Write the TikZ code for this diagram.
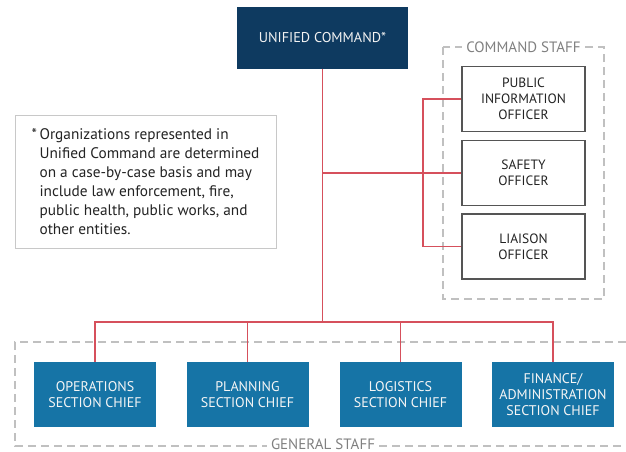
\documentclass[tikz,border=0pt]{standalone}
\usepackage{fontspec}
\setmainfont{PT Sans}
\definecolor{ucnavy}{RGB}{14,58,96}
\definecolor{gsblue}{RGB}{22,116,166}
\definecolor{linkred}{RGB}{214,80,92}
\definecolor{dashgray}{RGB}{192,192,192}
\definecolor{labelgray}{RGB}{128,128,128}
\definecolor{boxgray}{RGB}{85,85,85}
\definecolor{notegray}{RGB}{200,200,200}
\definecolor{notetext}{RGB}{35,35,35}

\tikzset{
  ucbox/.style={fill=ucnavy, text=white!90!gray, minimum width=171pt, minimum height=61pt,
    inner sep=0pt, font=\fontsize{14.2}{16}\selectfont},
  officerbox/.style={draw=boxgray, line width=1.2pt, fill=white, minimum width=123pt,
    minimum height=65pt, inner sep=0pt, align=center, text=notetext,
    font=\fontsize{13.5}{16}\selectfont},
  chiefbox/.style={fill=gsblue, text=white!92!gray, minimum width=122pt, minimum height=65pt,
    inner sep=0pt, align=center, font=\fontsize{14}{16}\selectfont},
  notebox/.style={draw=notegray, line width=1pt, minimum width=261pt, minimum height=133pt,
    inner sep=0pt, align=left, text=notetext, font=\fontsize{15.3}{19}\selectfont},
  staffframe/.style={draw=dashgray, line width=1.2pt, dash pattern=on 8pt off 5pt},
  stafflabel/.style={fill=white, text=labelgray, inner xsep=4pt, inner ysep=1pt,
    font=\fontsize{15}{16}\selectfont},
  link/.style={draw=linkred, line width=1.3pt},
}

\begin{document}
\begin{tikzpicture}[x=1pt, y=-1pt]
    \useasboundingbox (0,0) rectangle (626,452);

    % Command staff frame
    \draw[staffframe] (443,47) rectangle (604,299);
    \node[stafflabel] (cslabel) at (523.5,47) {COMMAND STAFF};

    % General staff frame, open on the right
    \draw[staffframe] (626,342) -| (15,446) -- (626,446);
    \node[stafflabel] (gslabel) at (323,444) {GENERAL STAFF};

    % Unified command
    \node[ucbox] (uc) at (322.5,38) {UNIFIED COMMAND*};

    % Note on the left
    \node[notebox] (note) at (145.5,181.5)
      {\makebox[8pt][l]{*}Organizations represented in\\
       \hspace*{8pt}Unified Command are determined\\
       \hspace*{8pt}on a case-by-case basis and may\\
       \hspace*{8pt}include law enforcement, fire,\\
       \hspace*{8pt}public health, public works, and\\
       \hspace*{8pt}other entities.};

    % Command staff officers
    \node[officerbox] (pio) at (523.5,99) {PUBLIC\\INFORMATION\\OFFICER};
    \node[officerbox] (safety) at (523.5,173) {SAFETY\\OFFICER};
    \node[officerbox] (liaison) at (523.5,246.5) {LIAISON\\OFFICER};

    % General staff section chiefs
    \node[chiefbox] (ops) at (95,394.5) {OPERATIONS\\SECTION CHIEF};
    \node[chiefbox] (plan) at (247.5,394.5) {PLANNING\\SECTION CHIEF};
    \node[chiefbox] (logi) at (400.5,394.5) {LOGISTICS\\SECTION CHIEF};
    \node[chiefbox] (fin) at (553,394.5) {FINANCE/\\ADMINISTRATION\\SECTION CHIEF};

    % Connectors
    \coordinate (hub) at (322.5,322);
    \coordinate (spine) at (423,173);
    \draw[link] (uc.south) -- (hub);
    \draw[link] (uc.south |- safety.west) -- (safety.west);
    \draw[link] (pio.west) -- (spine |- pio.west) -- (spine |- liaison.west) -- (liaison.west);
    \draw[link] (ops.north) |- (hub) -| (fin.north);
    \draw[link] (plan.north) -- (plan.north |- hub);
    \draw[link] (logi.north) -- (logi.north |- hub);
\end{tikzpicture}
\end{document}
